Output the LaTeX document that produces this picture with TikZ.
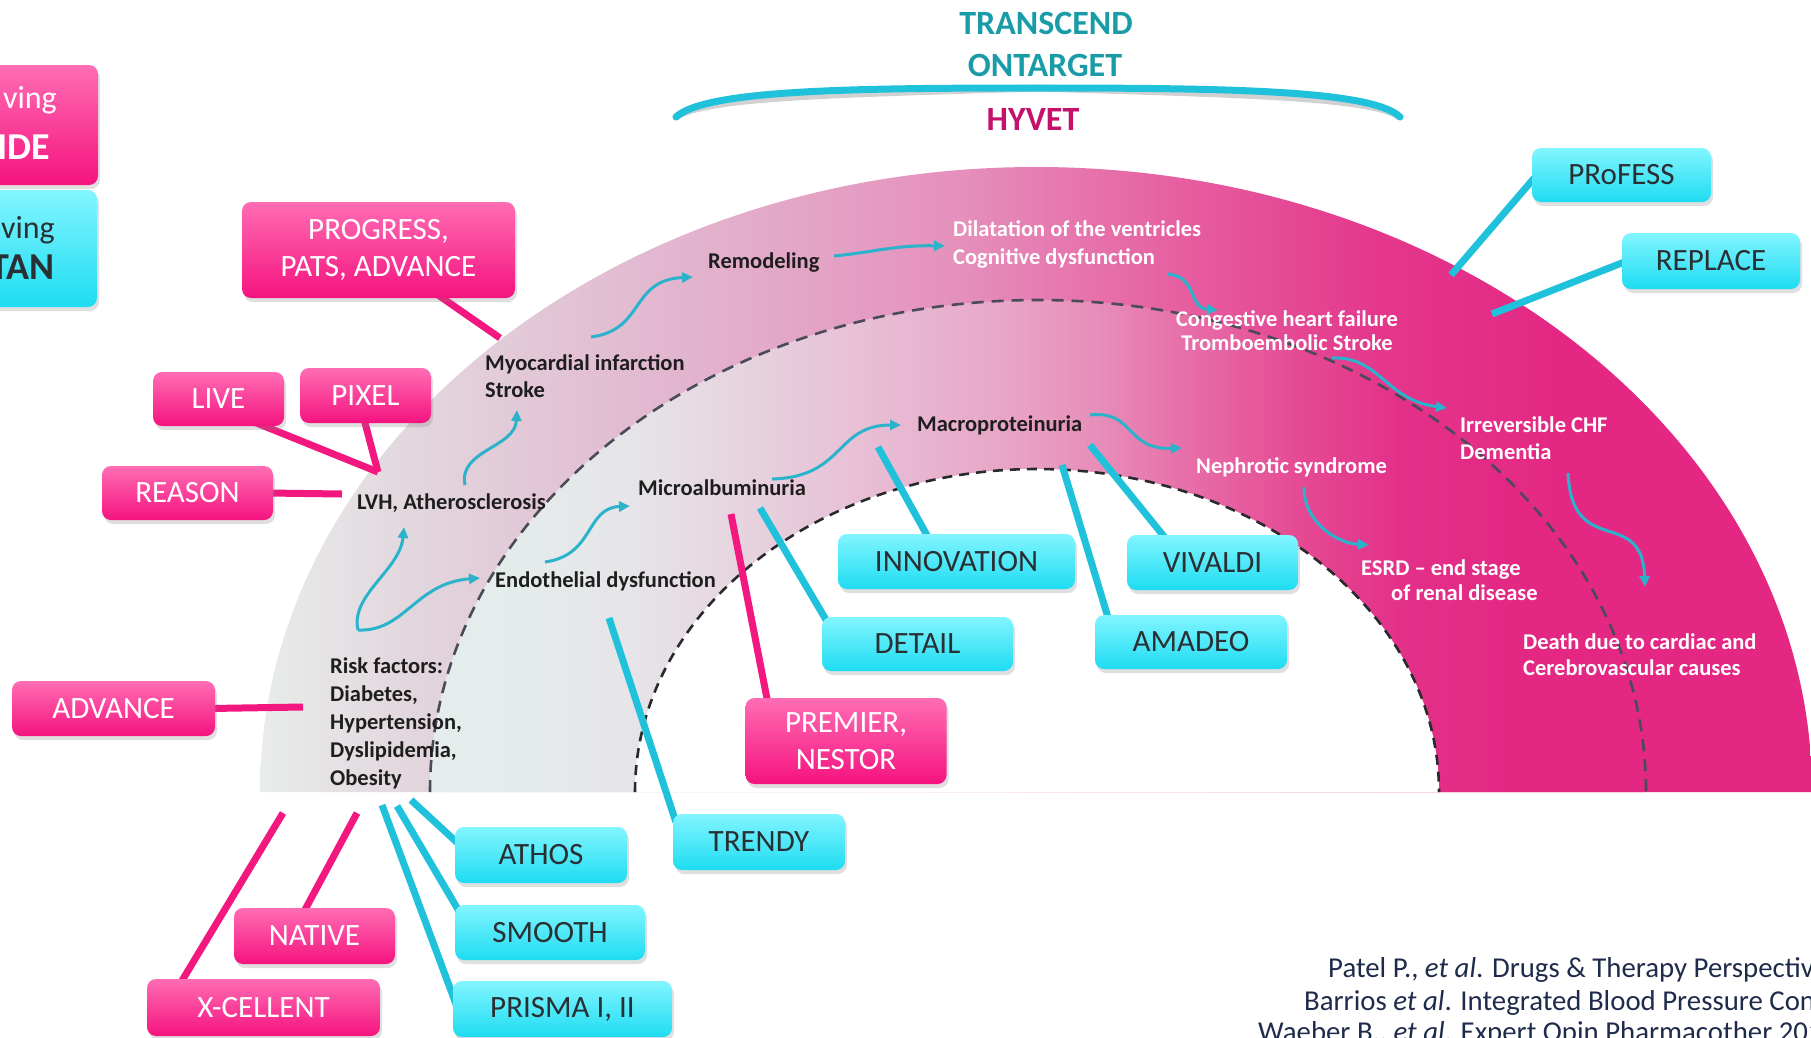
\documentclass[tikz,border=0pt]{standalone}
\usepackage{fontspec}
\setmainfont{Carlito}
\usetikzlibrary{arrows.meta,shadows}
\definecolor{pinkTop}{HTML}{FF6DB4}
\definecolor{pinkBot}{HTML}{F5137F}
\definecolor{cyanTop}{HTML}{82F5FF}
\definecolor{cyanBot}{HTML}{1EDCF2}
\definecolor{connPink}{HTML}{F2187F}
\definecolor{connCyan}{HTML}{1FC2DA}
\definecolor{arrowCyan}{HTML}{2BB3CC}
\definecolor{darktext}{HTML}{1E1E1E}
\definecolor{boxtext}{HTML}{2A2F33}
\definecolor{titleteal}{HTML}{1A9CA8}
\definecolor{hyvetcol}{HTML}{C4116C}
\definecolor{citecol}{HTML}{1F2B4B}
\definecolor{dashgrey}{HTML}{4A4A58}
\definecolor{dashdark}{HTML}{2A2A2E}
% outer band colours
\definecolor{oA}{HTML}{E8ECEB}
\definecolor{oB}{HTML}{E2D6DD}
\definecolor{oC}{HTML}{E2B9D0}
\definecolor{oD}{HTML}{E590BC}
\definecolor{oE}{HTML}{E65C9F}
\definecolor{oF}{HTML}{E4378C}
\definecolor{hotpink}{HTML}{E32783}
% inner band colours
\definecolor{iA}{HTML}{E4EDEB}
\definecolor{iB}{HTML}{E6E4E8}
\definecolor{iC}{HTML}{E6D5DF}
\definecolor{iD}{HTML}{E8C0D6}
\definecolor{iE}{HTML}{E8A6C7}
\definecolor{iF}{HTML}{E78DB9}
\definecolor{iG}{HTML}{E76BA7}
\definecolor{iH}{HTML}{E54893}
\definecolor{iI}{HTML}{E33089}
\pgfdeclarehorizontalshading{outershade}{100bp}{color(0bp)=(oA); color(25bp)=(oA); color(30bp)=(oB); color(37.5bp)=(oC); color(47.5bp)=(oD); color(55bp)=(oE); color(61bp)=(oF); color(67bp)=(hotpink); color(100bp)=(hotpink)}
\pgfdeclarehorizontalshading{innershade}{100bp}{color(0bp)=(iA); color(27.9bp)=(iA); color(33.5bp)=(iB); color(37.5bp)=(iC); color(42.5bp)=(iD); color(48.5bp)=(iE); color(52.5bp)=(iF); color(56.5bp)=(iG); color(61bp)=(iH); color(65bp)=(iI); color(70bp)=(hotpink); color(100bp)=(hotpink)}
\pgfdeclarelayer{band}
\pgfdeclarelayer{conn}
\pgfsetlayers{band,conn,main}
\begin{document}
\begin{tikzpicture}[x=1pt,y=-1pt,
  pbox/.style={rounded corners=9pt, top color=pinkTop, bottom color=pinkBot, text=white,
    font=\fontsize{31}{37}\selectfont, align=center, inner sep=0pt,
    drop shadow={shadow xshift=2pt, shadow yshift=-4pt, opacity=0.25}},
  cbox/.style={rounded corners=9pt, top color=cyanTop, bottom color=cyanBot, text=boxtext,
    font=\fontsize{31}{37}\selectfont, align=center, inner sep=0pt,
    drop shadow={shadow xshift=2pt, shadow yshift=-4pt, opacity=0.25}},
  bx/.style 2 args={minimum width=#1pt, minimum height=#2pt},
  lab/.style={font=\bfseries\fontsize{22.5}{27}\selectfont, text=darktext, inner sep=0pt, align=left},
  wlab/.style={lab, text=white},
  pconn/.style={line width=7pt, draw=connPink},
  cconn/.style={line width=7pt, draw=connCyan},
  wave/.style={line width=3pt, draw=arrowCyan, -{Triangle[length=11pt,width=10pt]}},
  dline/.style={line width=2.6pt, draw=dashgrey, dash pattern=on 12pt off 8pt},
  dlinedark/.style={line width=2.6pt, draw=dashdark, dash pattern=on 10pt off 7pt},
  titlefont/.style={font=\bfseries\fontsize{34}{40}\selectfont, inner sep=0pt},
  citefont/.style={font=\fontsize{28.8}{33}\selectfont, text=citecol, anchor=west, inner sep=0pt}
]
\useasboundingbox (0,0) rectangle (1811,1037);

% ---------------- band ----------------
\begin{pgfonlayer}{band}
\shade[shading=outershade] (260,792) arc[start angle=180,end angle=0,x radius=776pt,y radius=625pt] -- cycle;
\shade[shading=innershade] (430,792) arc[start angle=180,end angle=0,x radius=608pt,y radius=492pt] -- cycle;
\fill[white] (635,792) arc[start angle=180,end angle=0,x radius=402pt,y radius=323pt] -- cycle;
\draw[dline] (430,792) arc[start angle=180,end angle=0,x radius=608pt,y radius=492pt];
\draw[dlinedark] (635,792) arc[start angle=180,end angle=0,x radius=402pt,y radius=323pt];
\end{pgfonlayer}

% ---------------- titles ----------------
\node[titlefont, text=titleteal] (transcend) at (1046,23) {TRANSCEND};
\node[titlefont, text=titleteal] (ontarget) at (1045,65) {ONTARGET};
\node[titlefont, text=hyvetcol] (hyvet) at (1033,119) {HYVET};
\coordinate (cl) at (676,117);
\coordinate (cm) at (1037,88);
\coordinate (cr) at (1400,117);
\draw[line width=7pt, draw=black, opacity=0.18, line cap=round, yshift=-6pt]
  (cl) .. controls (705,90) and (850,88) .. (cm) .. controls (1225,88) and (1372,90) .. (cr);
\draw[line width=7pt, draw=connCyan, line cap=round]
  (cl) .. controls (705,90) and (850,88) .. (cm) .. controls (1225,88) and (1372,90) .. (cr);

% ---------------- left cut boxes ----------------
\node[pbox,bx={158}{120}] (lpink) at (19,125) {};
\node[cbox,bx={157}{117}] (lcyan) at (18.5,248.5) {};
\node[font=\fontsize{32}{38}\selectfont, text=white, anchor=east, inner sep=0pt] (lpinka) at (57,100) {ving};
\node[font=\bfseries\fontsize{38}{44}\selectfont, text=white, anchor=east, inner sep=0pt] (lpinkb) at (50,147) {IDE};
\node[font=\fontsize{32}{38}\selectfont, text=boxtext, anchor=east, inner sep=0pt] (lcyana) at (55,230) {ving};
\node[font=\bfseries\fontsize{38}{44}\selectfont, text=boxtext, anchor=east, inner sep=0pt] (lcyanb) at (55,267) {TAN};

% ---------------- pink boxes ----------------
\node[pbox,bx={273}{96}] (prog) at (378.5,250) {PROGRESS,\\PATS, ADVANCE};
\node[pbox,bx={131}{54}] (live) at (218.5,399) {LIVE};
\node[pbox,bx={131}{55}] (pixel) at (365.5,395.5) {PIXEL};
\node[pbox,bx={171}{54}] (reason) at (187.5,493) {REASON};
\node[pbox,bx={203}{55}] (advance) at (113.5,708.5) {ADVANCE};
\node[pbox,bx={161}{56}] (native) at (314.5,936) {NATIVE};
\node[pbox,bx={233}{57}] (xcell) at (263.5,1007.5) {X-CELLENT};
\node[pbox,bx={201}{86}] (premier) at (846,741) {PREMIER,\\NESTOR};

% ---------------- cyan boxes ----------------
\node[cbox,bx={172}{56}] (athos) at (541,855) {ATHOS};
\node[cbox,bx={190}{55}] (smooth) at (550,932.5) {SMOOTH};
\node[cbox,bx={219}{56}] (prisma) at (562.5,1009) {PRISMA I, II};
\node[cbox,bx={172}{56}] (trendy) at (759,842) {TRENDY};
\node[cbox,bx={237}{55}] (innov) at (956.5,561.5) {INNOVATION};
\node[cbox,bx={191}{54}] (detail) at (917.5,644) {DETAIL};
\node[cbox,bx={192}{54}] (amadeo) at (1191,642) {AMADEO};
\node[cbox,bx={171}{55}] (vivaldi) at (1212.5,562.5) {VIVALDI};
\node[cbox,bx={179}{54}] (profess) at (1621.5,175) {PRoFESS};
\node[cbox,bx={178}{56}] (replace) at (1711,261) {REPLACE};

% ---------------- band labels ----------------
\node[lab,anchor=west] (lvh) at (357,503) {LVH, Atherosclerosis};
\node[lab,anchor=west] (myo) at (485,376) {Myocardial infarction\\Stroke};
\node[lab,anchor=west] (remod) at (708,263) {Remodeling};
\node[wlab,anchor=west,font=\bfseries\fontsize{22.5}{28}\selectfont] (dilat) at (953,244) {Dilatation of the ventricles\\Cognitive dysfunction};
\node[wlab,align=center,font=\bfseries\fontsize{22.5}{24}\selectfont] (chf) at (1287,331) {Congestive heart failure\\Tromboembolic Stroke};
\node[wlab,anchor=west] (irrev) at (1460,438) {Irreversible CHF\\Dementia};
\node[wlab,anchor=west] (nephro) at (1196,467) {Nephrotic syndrome};
\node[wlab,anchor=west,font=\bfseries\fontsize{22.5}{25}\selectfont] (esrd) at (1361,580) {ESRD -- end stage\\\hspace*{30pt}of renal disease};
\node[wlab,anchor=west,font=\bfseries\fontsize{22.5}{26}\selectfont] (death) at (1523,655) {Death due to cardiac and\\Cerebrovascular causes};
\node[lab,anchor=west] (macro) at (917,425) {Macroproteinuria};
\node[lab,anchor=west] (micro) at (638,488) {Microalbuminuria};
\node[lab,anchor=west] (endo) at (495,581) {Endothelial dysfunction};
\node[lab,anchor=west,font=\bfseries\fontsize{22.5}{28}\selectfont] (risk) at (330,723) {Risk factors:\\Diabetes,\\Hypertension,\\Dyslipidemia,\\Obesity};

% ---------------- connector free ends ----------------
\coordinate (progend) at (500,338);
\coordinate (lvhpt) at (378,472);
\coordinate (reasonend) at (342,494);
\coordinate (advend) at (303,707);
\coordinate (xcellend) at (283,813);
\coordinate (nativeend) at (357,813);
\coordinate (prismaend) at (382,805);
\coordinate (smoothend) at (397,806);
\coordinate (athosend) at (411,800);
\coordinate (trendyend) at (609,618);
\coordinate (premierend) at (731,514);
\coordinate (detailend) at (760,508);
\coordinate (innovend) at (878,447);
\coordinate (amadeoend) at (1062,465);
\coordinate (vivaldiend) at (1090,445);
\coordinate (professend) at (1451,275);
\coordinate (replaceend) at (1492,314);

\begin{pgfonlayer}{conn}
\draw[pconn] ([xshift=55.5pt,yshift=6pt]prog.south) -- (progend);
\draw[pconn] ([xshift=36pt,yshift=4pt]live.south) -- (lvhpt);
\draw[pconn] ([xshift=-2pt,yshift=6pt]pixel.south) -- (lvhpt);
\draw[pconn] ([xshift=-5pt]reason.east) -- (reasonend);
\draw[pconn] ([xshift=-5pt]advance.east) -- (advend);
\draw[pconn] ([xshift=-84pt,yshift=-6pt]xcell.north) -- (xcellend);
\draw[pconn] ([xshift=-11.7pt,yshift=-6pt]native.north) -- (nativeend);
\draw[pconn] ([xshift=-78pt,yshift=-6pt]premier.north) -- (premierend);
\draw[cconn] ([xshift=5pt]prisma.west) -- (prismaend);
\draw[cconn] ([xshift=4pt,yshift=-6pt]smooth.north west) -- (smoothend);
\draw[cconn] ([xshift=5pt,yshift=10pt]athos.west) -- (athosend);
\draw[cconn] ([xshift=3pt,yshift=-8pt]trendy.north west) -- (trendyend);
\draw[cconn] ([xshift=6pt,yshift=-6pt]detail.north west) -- (detailend);
\draw[cconn] ([xshift=-27pt,yshift=-6pt]innov.north) -- (innovend);
\draw[cconn] ([xshift=-82pt,yshift=-6pt]amadeo.north) -- (amadeoend);
\draw[cconn] ([xshift=-45pt,yshift=-6pt]vivaldi.north) -- (vivaldiend);
\draw[cconn] ([xshift=5pt]profess.west) -- (professend);
\draw[cconn] ([xshift=5pt]replace.west) -- (replaceend);
\end{pgfonlayer}

% ---------------- wavy arrows ----------------
\coordinate (riskpt) at (358,630);
\coordinate (lvhin) at (404,527);
\coordinate (endoin) at (480,578);
\coordinate (lvhout) at (465,485);
\coordinate (myoin) at (517,410);
\coordinate (myoout) at (591,337);
\coordinate (remodin) at (693,277);
\coordinate (remodout) at (834,256);
\coordinate (dilatin) at (945,246);
\coordinate (dilatout) at (1167,274);
\coordinate (chfin) at (1218,310);
\coordinate (chfout) at (1332,358);
\coordinate (irrevin) at (1447,408);
\coordinate (endoout) at (545,562);
\coordinate (microin) at (630,506);
\coordinate (microout) at (772,479);
\coordinate (macroin) at (901,425);
\coordinate (macroout) at (1090,415);
\coordinate (nephroin) at (1182,448);
\coordinate (nephroout) at (1304,487);
\coordinate (esrdin) at (1369,545);
\coordinate (irrevout) at (1568,473);
\coordinate (deathin) at (1645,587);

\draw[wave] (riskpt) .. controls (350,595) and (400,570) .. (lvhin);
\draw[wave] (riskpt) .. controls (405,632) and (415,583) .. (endoin);
\draw[wave] (lvhout) .. controls (458,450) and (515,448) .. (myoin);
\draw[wave] (myoout) .. controls (645,330) and (630,280) .. (remodin);
\draw[wave] (remodout) .. controls (875,252) and (895,245) .. (dilatin);
\draw[wave] (dilatout) .. controls (1198,276) and (1188,308) .. (chfin);
\draw[wave] (chfout) .. controls (1380,356) and (1385,400) .. (irrevin);
\draw[wave] (endoout) .. controls (595,555) and (585,508) .. (microin);
\draw[wave] (microout) .. controls (845,477) and (835,425) .. (macroin);
\draw[wave] (macroout) .. controls (1135,410) and (1125,450) .. (nephroin);
\draw[wave] (nephroout) .. controls (1303,520) and (1335,543) .. (esrdin);
\draw[wave] (irrevout) .. controls (1572,560) and (1642,505) .. (deathin);

% ---------------- citation ----------------
\node[citefont] (cite1) at (1328,970) {Patel P., \textit{et al}. Drugs \& Therapy Perspectiv};
\node[citefont] (cite2) at (1304,1003) {Barrios \textit{et al}. Integrated Blood Pressure Con};
\node[citefont] (cite3) at (1258,1034) {Waeber B., \textit{et al}. Expert Opin Pharmacother 201};
\end{tikzpicture}
\end{document}
